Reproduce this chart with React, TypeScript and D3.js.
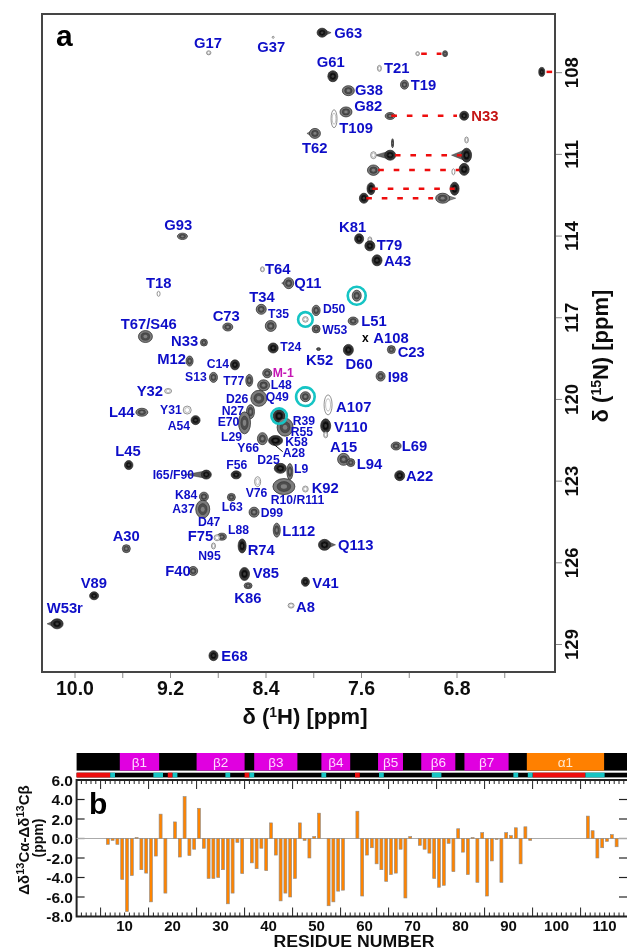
import React from "react";
import * as d3 from "d3";

const FONT = "'Liberation Sans', Arial, sans-serif";

// ---------- panel a: 1H-15N peak list: [id, δH ppm, δN ppm]
const peaks: [string, number, number][] = [
  ["G17", 8.88, 107.27], ["G37", 8.34, 106.7], ["G63", 7.93, 106.53], ["G61", 7.84, 108.13],
  ["T109", 7.83, 109.69], ["T62", 7.99, 110.23], ["G93", 9.1, 114.01], ["T64", 8.43, 115.22],
  ["Q11", 8.21, 115.73], ["T18", 9.3, 116.12], ["T34", 8.44, 116.69], ["D50", 7.98, 116.73],
  ["C1", 8.07, 117.06], ["W53", 7.98, 117.41], ["T35", 8.36, 117.3], ["C73", 8.72, 117.34],
  ["T67", 9.41, 117.69], ["N33L", 8.92, 117.91], ["Pa", 7.13, 107.3], ["Pb", 6.9, 107.3],
  ["Far", 6.09, 107.97], ["T21", 7.45, 107.84], ["T19", 7.24, 108.44], ["G38", 7.71, 108.66],
  ["G82", 7.73, 109.44], ["N33a", 7.36, 109.59], ["N33b", 6.74, 109.58], ["R1a", 7.36, 111.03],
  ["R1b", 6.72, 111.03], ["R1t", 7.5, 111.03], ["R1u", 7.34, 110.59], ["R1v", 6.72, 110.47],
  ["R2a", 7.5, 111.58], ["R2b", 6.74, 111.55], ["R2c", 6.83, 111.64], ["R3a", 7.52, 112.26],
  ["R3b", 6.82, 112.26], ["R4a", 7.58, 112.61], ["R4b", 6.92, 112.61], ["K81", 7.62, 114.1],
  ["T79u", 7.53, 114.14], ["T79", 7.53, 114.36], ["A43", 7.47, 114.89], ["C2", 7.64, 116.19],
  ["L51", 7.67, 117.12], ["T24", 8.34, 118.11], ["K52", 7.96, 118.15], ["D60", 7.71, 118.18],
  ["M12", 9.04, 118.59], ["C14", 8.66, 118.73], ["S13", 8.84, 119.19], ["T77", 8.54, 119.3],
  ["M-1", 8.39, 119.04], ["L48", 8.42, 119.48], ["Q49", 8.46, 119.96], ["C3", 8.07, 119.9],
  ["A107", 7.88, 120.2], ["Y32", 9.22, 119.69], ["L44", 9.44, 120.47], ["Y31", 9.06, 120.39],
  ["A54", 8.99, 120.76], ["N27", 8.53, 120.45], ["E70", 8.58, 120.86], ["C4", 8.29, 120.61],
  ["R39", 8.24, 121.02], ["V110", 7.9, 120.97], ["V110b", 7.9, 121.3], ["Y66", 8.43, 121.44],
  ["K58", 8.32, 121.51], ["A15", 7.75, 122.2], ["L94", 7.69, 122.32], ["L69", 7.31, 121.71],
  ["A22", 7.28, 122.8], ["C23", 7.35, 118.17], ["I98", 7.44, 119.15], ["L45", 9.55, 122.41],
  ["I65", 8.9, 122.76], ["F56", 8.65, 122.77], ["L9", 8.2, 122.65], ["D25", 8.28, 122.53],
  ["R10", 8.25, 123.2], ["K92", 8.07, 123.29], ["V76", 8.47, 123.02], ["K84", 8.92, 123.57],
  ["L63", 8.69, 123.59], ["A37", 8.93, 124.03], ["D99", 8.5, 124.14], ["L112", 8.31, 124.8],
  ["L88", 8.77, 125.04], ["F75", 8.81, 125.08], ["N95", 8.84, 125.38], ["A30", 9.57, 125.48],
  ["R74", 8.6, 125.38], ["Q113", 7.91, 125.34], ["F40", 9.01, 126.3], ["V85", 8.58, 126.41],
  ["V41", 8.07, 126.7], ["K86", 8.55, 126.84], ["V89", 9.84, 127.21], ["A8", 8.19, 127.57],
  ["W53r", 10.15, 128.24], ["E68", 8.84, 129.41],
];

// drawing shape per peak: [rx, ry, tone 0 open / 1 grey / 2 dark, tail]
const peakShape: Record<string, [number, number, number, number?]> = {
  G17: [2.2, 2, 0], G37: [1, 1, 0], G63: [5, 4.5, 2, 9], G61: [5, 5.5, 2], T109: [3, 9, 0],
  T62: [5.5, 5, 1, -8], G93: [5, 3.2, 1], T64: [2, 2.5, 0], Q11: [5, 5.5, 1, -7], T18: [1.5, 2.5, 0],
  T34: [5, 5, 1], D50: [4, 5.2, 1], C1: [2.8, 2.8, 0], W53: [4, 4, 1], T35: [5.5, 5.5, 1],
  C73: [5, 4, 1], T67: [7, 6, 1], N33L: [3.5, 3.5, 1], Pa: [1.8, 2, 0], Pb: [2.5, 3, 1],
  Far: [3, 4.5, 2], T21: [2, 3, 0], T19: [4, 4.5, 1], G38: [6, 5, 1], G82: [6, 5, 1],
  N33a: [5, 3.5, 1], N33b: [4.5, 4.5, 2], R1a: [5.5, 5, 2, -15], R1b: [5, 7, 2, -15], R1t: [2.8, 3.5, 0],
  R1u: [1, 4.5, 1], R1v: [1.8, 3, 0], R2a: [6, 5.2, 1], R2b: [5, 6, 2], R2c: [1.5, 3, 0],
  R3a: [4, 6, 2], R3b: [4.5, 6.5, 2], R4a: [4.5, 5, 2], R4b: [7, 5, 1, 13], K81: [4.5, 5, 2],
  T79u: [2, 3, 0], T79: [5, 5, 2], A43: [5, 5.5, 2, -5], C2: [4.5, 5.5, 1], L51: [5, 4, 1],
  T24: [5, 5, 2], K52: [2, 1.4, 1], D60: [5, 5.5, 2], M12: [3.5, 5, 1], C14: [4.5, 5, 2],
  S13: [4, 5, 1], T77: [3.5, 6, 1], "M-1": [4.5, 4.5, 1], L48: [6, 5.5, 1], Q49: [8, 8, 1],
  C3: [5, 5, 1], A107: [4, 10, 0], Y32: [3.5, 2.5, 0], L44: [6, 4, 1], Y31: [4, 4, 0],
  A54: [4.5, 4.5, 2], N27: [4, 7, 1], E70: [6, 11, 1], C4: [6, 6.5, 2], R39: [8, 9, 1],
  V110: [5, 7, 2], V110b: [2, 3, 0], Y66: [5, 6, 1], K58: [7, 5, 2], A15: [6, 6, 1], L94: [4, 4, 1],
  L69: [5, 4, 1], A22: [5, 5, 2, -2], C23: [4, 4, 1], I98: [4.5, 4.8, 1], L45: [4.2, 4.5, 2],
  I65: [5, 4.5, 2, -20], F56: [5, 4, 2], L9: [3, 8, 1], D25: [6, 5, 2], R10: [11, 8, 1],
  K92: [2.8, 3, 0], V76: [3, 5, 0], K84: [4.5, 4.5, 1], L63: [4, 3.8, 1], A37: [7, 9, 1],
  D99: [5, 5, 1], L112: [3.5, 7, 1], L88: [4.5, 3.5, 1], F75: [3, 3, 0], N95: [2, 3, 0],
  A30: [4, 4, 1], R74: [4, 7, 2], Q113: [6, 5.5, 2, 11], F40: [4.5, 4.5, 1], V85: [5, 6.5, 2],
  V41: [4, 4.5, 2], K86: [4, 3, 1], V89: [4.5, 4, 2], A8: [3, 2.5, 0], W53r: [6, 5, 2, -10], E68: [4.5, 5, 2],
};

// red connectors: [δH start, δH end, δN]
const sidechainPairs: [number, number, number][] = [
  [7.1, 6.93, 107.3], [6.05, 6.0, 107.97], [7.35, 6.8, 109.58], [7.32, 6.76, 111.03],
  [7.46, 6.78, 111.57], [7.51, 6.82, 112.26], [7.56, 7.0, 112.61],
];

// circled peaks: [peak id, radius]
const circled: [string, number][] = [["C1", 7.3], ["C2", 9], ["C3", 9.3], ["C4", 7.7]];

// assignment labels: [text, left, centre y]
const labelsBig: [string, number, number][] = [
  ["G17", 194, 42.7], ["G37", 257.3, 47], ["G63", 334.3, 32.7], ["G61", 316.7, 62.3], ["T62", 302, 147.7],
  ["G93", 164.3, 224.7], ["T64", 265, 269.3], ["Q11", 294.3, 283], ["T18", 146, 283], ["T34", 249.3, 297],
  ["C73", 212.7, 316.3], ["T67/S46", 120.7, 324], ["N33", 171, 341], ["T21", 384, 68.3], ["T19", 410.7, 84.7],
  ["G38", 355, 90], ["G82", 354.3, 105.7], ["T109", 339.3, 128], ["K81", 339, 226.7], ["T79", 376.7, 245],
  ["A43", 384, 260.7], ["L51", 361.3, 321], ["A108", 373.3, 338], ["K52", 306, 360], ["D60", 345.5, 363.5],
  ["M12", 157.3, 359.3], ["Y32", 136.7, 391], ["L44", 109, 412], ["L45", 115.3, 450.7], ["K92", 311.7, 488.3],
  ["L112", 282.3, 530.7], ["A107", 336, 407], ["V110", 334, 426.7], ["A15", 330, 446.7], ["L94", 356.7, 463.7],
  ["L69", 401.7, 446], ["A22", 406, 476], ["C23", 397.7, 352.3], ["I98", 387.7, 376.7], ["A30", 112.7, 535.7],
  ["F75", 187.7, 536], ["R74", 247.7, 550.3], ["Q113", 338, 544.7], ["F40", 165.3, 571], ["V85", 252.7, 572.7],
  ["V41", 312.3, 583.3], ["K86", 234.3, 598], ["V89", 80.7, 583.3], ["A8", 296, 607.3], ["W53r", 46.7, 608.3],
  ["E68", 221.3, 656],
];
const labelsSmall: [string, number, number][] = [
  ["T35", 268, 314.3], ["D50", 323, 309.3], ["W53", 322.3, 330], ["T24", 280.3, 347.3], ["C14", 206.7, 364],
  ["S13", 185, 376.7], ["T77", 223.3, 380.7], ["L48", 270.7, 385.3], ["Q49", 265.7, 396.7], ["D26", 226, 399.3],
  ["Y31", 160, 410], ["N27", 221.7, 411.3], ["A54", 167.7, 426.3], ["E70", 217.7, 422.3], ["R39", 292.7, 421],
  ["R55", 290.7, 432], ["K58", 285.3, 442], ["A28", 282.7, 453.3], ["L29", 221, 437.3], ["Y66", 237.3, 448.3],
  ["D25", 257.3, 459.7], ["L9", 294, 469], ["F56", 226.3, 465], ["I65/F90", 152.7, 474.7], ["V76", 245.7, 492.7],
  ["R10/R111", 270.7, 500.3], ["K84", 175, 495], ["A37", 172.3, 509.3], ["L63", 221.7, 506.7], ["D99", 260.7, 513],
  ["D47", 198, 522], ["L88", 228, 530], ["N95", 198.3, 555.7],
];

// ---------- panel a axes
const xTickMajor = [10.0, 9.2, 8.4, 7.6, 6.8];
const xTickMinor = [9.6, 8.8, 8.0, 7.2, 6.4];
const yTicks = [108, 111, 114, 117, 120, 123, 126, 129];

// ---------- panel b: chemical shift index by residue (6..112)
const firstResidue = 6;
const deltaCACB: (number | null)[] = [
  -0.6, -0.2, -0.6, -4.2, -7.5, -3.8, 0.1, -3.2, -3.55, -6.5, -1.8, 2.5, -5.6, null, 1.7, -1.9, 4.3, -1.75,
  -1.1, 3.1, -1.0, -4.1, -4.1, -4.0, -3.2, -6.7, -5.6, -0.4, -3.6, null, -2.5, -3.1, -1.0, -3.3, 1.6, -1.7,
  -6.4, -5.6, -6.0, -4.1, 1.6, -0.2, -2.0, 0.2, 2.6, null, -6.9, -6.5, -5.4, -5.3, null, null, 2.8, -5.9,
  -1.7, -0.95, -2.6, -3.2, -4.4, -3.7, -3.55, -1.1, -6.1, 0.2, null, -0.7, -1.1, -1.5, -4.1, -5.0, -4.8,
  -0.5, -3.4, 1.0, -1.4, -3.7, 0.1, -4.5, 0.6, -5.9, -2.3, -0.1, -4.5, 0.6, 0.3, 1.1, -2.6, 1.2, -0.2,
  null, null, null, null, null, null, null, null, null, null, null, 2.3, 0.8, -2.0, -0.95, -0.3, 0.4, -0.85,
];

// secondary structure blocks: [name, start, end]
const strands: [string, number, number][] = [
  ["β1", 9, 17.2], ["β2", 25, 35], ["β3", 37, 46], ["β4", 51, 57], ["β5", 62.8, 68],
  ["β6", 71.8, 78.9], ["β7", 80.8, 90],
];
const helices: [string, number, number][] = [["α1", 93.8, 109.9]];
const redSegments: [number, number][] = [[0, 7], [19, 20], [35, 36], [58, 59], [95, 106]];
const cyanSegments: [number, number][] = [
  [7, 8], [16, 18], [20, 21], [31, 32], [36, 37], [51, 52], [63, 64], [74, 76], [91, 92], [94, 95], [106, 110],
];
const bTicksY = [6, 4, 2, 0, -2, -4, -6, -8];
const bLabelsX = [10, 20, 30, 40, 50, 60, 70, 80, 90, 100, 110];

// ---------- scales
const xH = d3.scaleLinear().domain([10, 6.8]).range([75, 457]);
const yN = d3.scaleLinear().domain([108, 129]).range([72.7, 644.5]);
const xRes = d3.scaleLinear().domain([10, 110]).range([124.6, 604.6]);
const yCS = d3.scaleLinear().domain([6, -8]).range([780, 916.5]);

const BLUE = "#1010c8";
const RED = "#c41212";
const MAGENTA = "#c414b4";
const CYAN = "#12c4c4";

function Peak({ id, h, n }: { id: string; h: number; n: number }) {
  const s = peakShape[id] ?? [3, 3, 1];
  const [rx, ry, tone, tail] = s;
  const cx = xH(h);
  const cy = yN(n);
  let tailPath: string | null = null;
  if (tail) {
    const p = d3.path();
    p.moveTo(cx, cy - ry * 0.85);
    p.lineTo(cx + tail, cy);
    p.lineTo(cx, cy + ry * 0.85);
    p.closePath();
    tailPath = p.toString();
  }
  const fills = tone === 2 ? ["#3a3a3a", "#111", "#3c3c3c"] : tone === 1 ? ["#7c7c7c", "#4e4e4e", "#808080"] : ["#fff", "#fff", "#999"];
  const stroke = tone === 0 ? "#666" : "#222";
  return (
    <g>
      {tailPath && <path d={tailPath} fill={tone === 2 ? "#666" : "#888"} stroke="#333" strokeWidth={0.5} />}
      <ellipse cx={cx} cy={cy} rx={rx} ry={ry} fill={fills[0]} stroke={stroke} strokeWidth={0.7} />
      {(tone > 0 || rx > 1.5) && <ellipse cx={cx} cy={cy} rx={rx * 0.62} ry={ry * 0.62} fill={fills[1]} stroke={stroke} strokeWidth={0.4} />}
      {tone > 0 && <ellipse cx={cx} cy={cy} rx={rx * 0.28} ry={ry * 0.28} fill={fills[2]} />}
    </g>
  );
}

function Label({ t, x, y, size, color }: { t: string; x: number; y: number; size: number; color: string }) {
  return (
    <text x={x} y={y} fontSize={size} fontWeight="bold" fill={color} fontFamily={FONT} dominantBaseline="central">
      {t}
    </text>
  );
}

export default function App() {
  const peakById = new Map(peaks.map((p) => [p[0], p]));
  return (
    <svg width={627} height={950} viewBox="0 0 627 950" style={{ position: "absolute", left: 0, top: 0, display: "block", background: "#fff" }}>
      <defs>
        <filter id="soft" x="0" y="0" width="100%" height="100%" filterUnits="userSpaceOnUse">
          <feGaussianBlur stdDeviation={0.4} />
        </filter>
      </defs>
      <rect x={0} y={0} width={627} height={950} fill="#fff" />
      <g filter="url(#soft)">
      {/* ---------- panel a ---------- */}
      <rect x={42} y={14} width={513} height={658} fill="#fff" stroke="#444" strokeWidth={2} />
      {xTickMajor.concat(xTickMinor).map((t) => (
        <line key={t} x1={xH(t)} x2={xH(t)} y1={673} y2={678} stroke="#888" strokeWidth={1} />
      ))}
      {xTickMajor.map((t) => (
        <text key={t} x={xH(t)} y={695} fontSize={19.5} fontWeight="bold" fontFamily={FONT} textAnchor="middle" fill="#111">
          {t.toFixed(1)}
        </text>
      ))}
      {yTicks.map((t) => (
        <g key={t}>
          <line x1={556} x2={562} y1={yN(t)} y2={yN(t)} stroke="#888" strokeWidth={1} />
          <text transform={`translate(578,${yN(t)}) rotate(-90)`} fontSize={18.5} fontWeight="bold" fontFamily={FONT} textAnchor="middle" fill="#111">
            {t}
          </text>
        </g>
      ))}
      <text x={305} y={724} fontSize={22} fontWeight="bold" fontFamily={FONT} textAnchor="middle" fill="#111">
        δ (<tspan dy={-7} fontSize={14}>1</tspan><tspan dy={7}>H) [ppm]</tspan>
      </text>
      <text transform="translate(608,356) rotate(-90)" fontSize={22} fontWeight="bold" fontFamily={FONT} textAnchor="middle" fill="#111">
        δ (<tspan dy={-7} fontSize={14}>15</tspan><tspan dy={7}>N)  [ppm]</tspan>
      </text>
      <text x={56} y={46} fontSize={30} fontWeight="bold" fontFamily={FONT} fill="#000">a</text>

      {peaks.map(([id, h, n]) => (
        <Peak key={id} id={id} h={h} n={n} />
      ))}
      <line x1={272.7} y1={443.3} x2={282.7} y2={451.7} stroke="#111" strokeWidth={1} />
      {sidechainPairs.map(([a, b, n], i) => (
        <line key={i} x1={xH(a)} x2={xH(b)} y1={yN(n)} y2={yN(n)} stroke="#ee0808" strokeWidth={2.5} strokeDasharray="5.6 9.9" />
      ))}
      {circled.map(([id, r]) => {
        const p = peakById.get(id)!;
        return <circle key={id} cx={xH(p[1])} cy={yN(p[2])} r={r} fill="none" stroke={CYAN} strokeWidth={2.6} />;
      })}
      {labelsBig.map(([t, x, y]) => (
        <Label key={t + x} t={t} x={x} y={y} size={14.8} color={BLUE} />
      ))}
      {labelsSmall.map(([t, x, y]) => (
        <Label key={t + x} t={t} x={x} y={y} size={12.2} color={BLUE} />
      ))}
      <Label t="N33" x={471.3} y={115.7} size={14.8} color={RED} />
      <Label t="M-1" x={272.7} y={372.7} size={12.2} color={MAGENTA} />
      <text x={362} y={342} fontSize={12} fontWeight="bold" fontFamily={FONT} fill="#000">x</text>

      {/* ---------- panel b: topology strips ---------- */}
      <rect x={xRes(0)} y={753} width={627 - xRes(0)} height={17.6} fill="#000" />
      {strands.map(([t, a, b]) => (
        <g key={t}>
          <rect x={xRes(a)} y={753} width={xRes(b) - xRes(a)} height={17.6} fill="#e000e0" />
          <text x={(xRes(a) + xRes(b)) / 2} y={767} fontSize={13.5} fontFamily={FONT} textAnchor="middle" fill="#ffd8ff">{t}</text>
        </g>
      ))}
      {helices.map(([t, a, b]) => (
        <g key={t}>
          <rect x={xRes(a)} y={753} width={xRes(b) - xRes(a)} height={17.6} fill="#ff8000" />
          <text x={(xRes(a) + xRes(b)) / 2} y={767} fontSize={13.5} fontFamily={FONT} textAnchor="middle" fill="#ffe8d0">{t}</text>
        </g>
      ))}
      <rect x={xRes(0)} y={772.7} width={627 - xRes(0)} height={4.7} fill="#000" />
      {redSegments.map(([a, b]) => (
        <rect key={a} x={xRes(a)} y={772.7} width={xRes(b) - xRes(a)} height={4.7} fill="#ee0808" />
      ))}
      {cyanSegments.map(([a, b]) => (
        <rect key={a} x={xRes(a)} y={772.7} width={xRes(b) - xRes(a)} height={4.7} fill={CYAN} />
      ))}

      {/* ---------- panel b: plot ---------- */}
      <rect x={xRes(0)} y={yCS(6)} width={640 - xRes(0)} height={yCS(-8) - yCS(6)} fill="#fff" stroke="#222" strokeWidth={2} />
      {d3.range(1, 116).map((v) => {
        const major = v % 10 === 5;
        const len = major ? 9 : 4;
        return (
          <g key={v} stroke="#222" strokeWidth={1}>
            <line x1={xRes(v)} x2={xRes(v)} y1={yCS(6)} y2={yCS(6) + len} />
            <line x1={xRes(v)} x2={xRes(v)} y1={yCS(-8)} y2={yCS(-8) - len} />
          </g>
        );
      })}
      {bTicksY.map((t) => (
        <g key={t}>
          {t !== 6 && t !== -8 && (
            <>
              <line x1={xRes(0)} x2={xRes(0) + 8} y1={yCS(t)} y2={yCS(t)} stroke="#222" strokeWidth={1.2} />
              <line x1={619} x2={627} y1={yCS(t)} y2={yCS(t)} stroke="#222" strokeWidth={1.2} />
            </>
          )}
          <text x={73} y={yCS(t)} fontSize={15.5} fontWeight="bold" fontFamily={FONT} textAnchor="end" dominantBaseline="central" fill="#111">
            {t.toFixed(1)}
          </text>
        </g>
      ))}
      {bLabelsX.map((t) => (
        <text key={t} x={xRes(t)} y={931} fontSize={15} fontWeight="bold" fontFamily={FONT} textAnchor="middle" fill="#111">
          {t}
        </text>
      ))}
      <line x1={xRes(0)} x2={627} y1={yCS(0)} y2={yCS(0)} stroke="#aaa" strokeWidth={1.2} />
      {deltaCACB.map((v, i) => {
        if (v === null) return null;
        const x = xRes(firstResidue + i + 0.5);
        const y0 = yCS(Math.max(v, 0));
        const y1 = yCS(Math.min(v, 0));
        return <rect key={i} x={x - 1.5} y={y0} width={3} height={y1 - y0} fill="#ff8400" stroke="#8c8c8c" strokeWidth={0.6} />;
      })}
      <text x={89} y={814} fontSize={30} fontWeight="bold" fontFamily={FONT} fill="#000">b</text>
      <text x={354} y={946.5} fontSize={16.8} textLength={161} lengthAdjust="spacingAndGlyphs" fontWeight="bold" fontFamily={FONT} textAnchor="middle" fill="#111">RESIDUE NUMBER</text>
      <text transform="translate(29,840) rotate(-90)" fontSize={15} fontWeight="bold" fontFamily={FONT} textAnchor="middle" fill="#111">
        Δδ<tspan dy={-5} fontSize={11}>13</tspan><tspan dy={5}>Cα-Δδ</tspan><tspan dy={-5} fontSize={11}>13</tspan><tspan dy={5}>Cβ</tspan>
      </text>
      <text transform="translate(43,838) rotate(-90)" fontSize={14} fontWeight="bold" fontFamily={FONT} textAnchor="middle" fill="#111">(ppm)</text>
      </g>
    </svg>
  );
}
